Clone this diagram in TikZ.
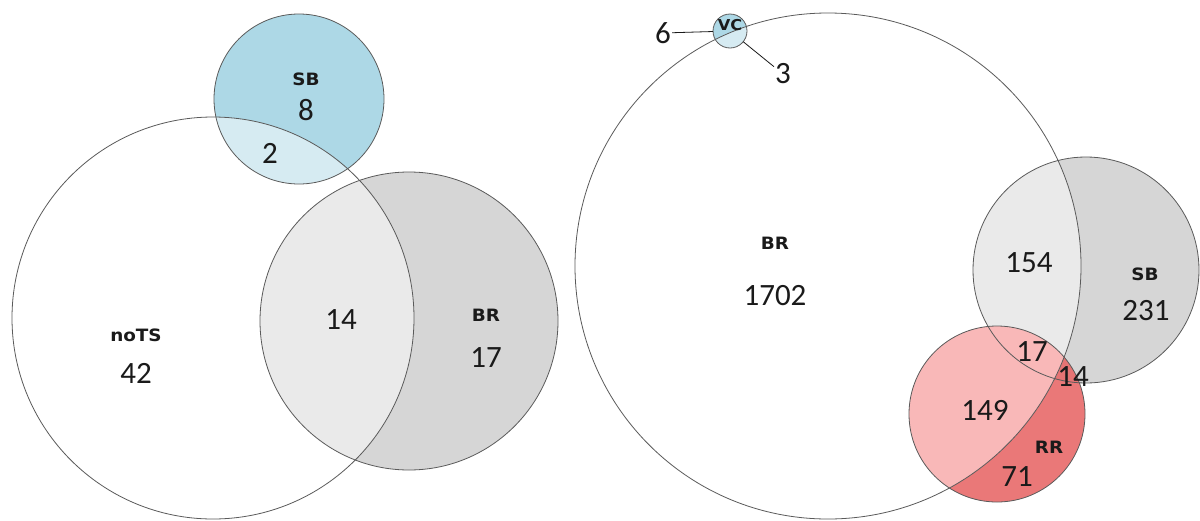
\documentclass[tikz,border=0pt]{standalone}
\usepackage{fontspec}
\usetikzlibrary{positioning}
\newfontfamily\numfont{Carlito}
\newfontfamily\tagfont[FakeStretch=1.08]{DejaVu Sans Bold}
\definecolor{sbblue}{HTML}{ADD8E6}
\definecolor{brgray}{HTML}{D6D6D6}
\definecolor{rrred}{HTML}{E86A6A}
\definecolor{rrpink}{HTML}{FBB8B8}
\definecolor{rimgray}{HTML}{5A5A5A}
\definecolor{inkblack}{HTML}{1A1A1A}

\begin{document}
\begin{tikzpicture}[x=1pt, y=-1pt,
        set/.style={circle, inner sep=0pt, outer sep=0pt},
        rim/.style={draw=rimgray, line width=0.8pt},
        num/.style={inner sep=1pt, text=inkblack, font=\numfont\fontsize{31}{31}\selectfont},
        tag/.style={inner sep=1pt, text=inkblack, font=\tagfont\fontsize{17}{17}\selectfont}]
        \useasboundingbox[fill=white] (0,0) rectangle (1200,520);

        % left diagram
        \node[set, minimum size=170pt, fill=sbblue] (sbL) at (299,99) {};
        \node[set, minimum size=298pt, fill=brgray] (brL) at (409,321) {};
        \node[set, minimum size=402pt, fill=white, fill opacity=0.5] (noTS) at (213,318) {};
        \foreach \n/\r in {sbL/85, brL/149, noTS/201}
                \draw[rim] (\n) circle[radius=\r];

        \node[tag] (sbLtag) at (306,79) {SB};
        \node[num] (sbLnum) at (306,110) {8};
        \node[num] (sbnoTS) at (270,153) {2};
        \node[tag] (noTStag) at (136,335) {noTS};
        \node[num] (noTSnum) at (136,373) {42};
        \node[num] (brnoTS) at (341,320) {14};
        \node[tag] (brLtag) at (486,315) {BR};
        \node[num] (brLnum) at (486,358) {17};

        % right diagram
        \node[set, minimum size=34pt, fill=sbblue] (vc) at (730,31) {};
        \node[set, minimum size=226pt, fill=brgray] (sbR) at (1086,270) {};
        \node[set, minimum size=176pt, fill=rrred, fill opacity=0.9] (rr) at (997,414) {};
        \node[set, minimum size=506pt, fill=white, fill opacity=0.5] (brR) at (828,266) {};
        \begin{scope}
                \clip (brR) circle[radius=253];
                \fill[rrpink, fill opacity=0.85] (rr) circle[radius=88];
        \end{scope}
        \foreach \n/\r in {vc/17, sbR/113, rr/88, brR/253}
                \draw[rim] (\n) circle[radius=\r];

        \node[tag, font=\tagfont\fontsize{15}{15}\selectfont] (vctag) at (730,25) {VC};
        \node[num] (six) at (663,33) {6};
        \node[num] (three) at (783,74) {3};
        \draw[draw=inkblack, line width=0.8pt] (six) -- (vc)
                (three) -- (vc);

        \node[tag] (brRtag) at (775,243) {BR};
        \node[num] (brRnum) at (775,296) {1702};
        \node[num] (brsb) at (1029,263) {154};
        \node[tag] (sbRtag) at (1145,274) {SB};
        \node[num] (sbRnum) at (1146,311) {231};
        \node[num] (brsbrr) at (1032,352) {17};
        \node[num] (sbrr) at (1073,377) {14};
        \node[num] (brrr) at (985,410) {149};
        \node[tag] (rrtag) at (1049,447) {RR};
        \node[num] (rrnum) at (1017,477) {71};
\end{tikzpicture}
\end{document}
